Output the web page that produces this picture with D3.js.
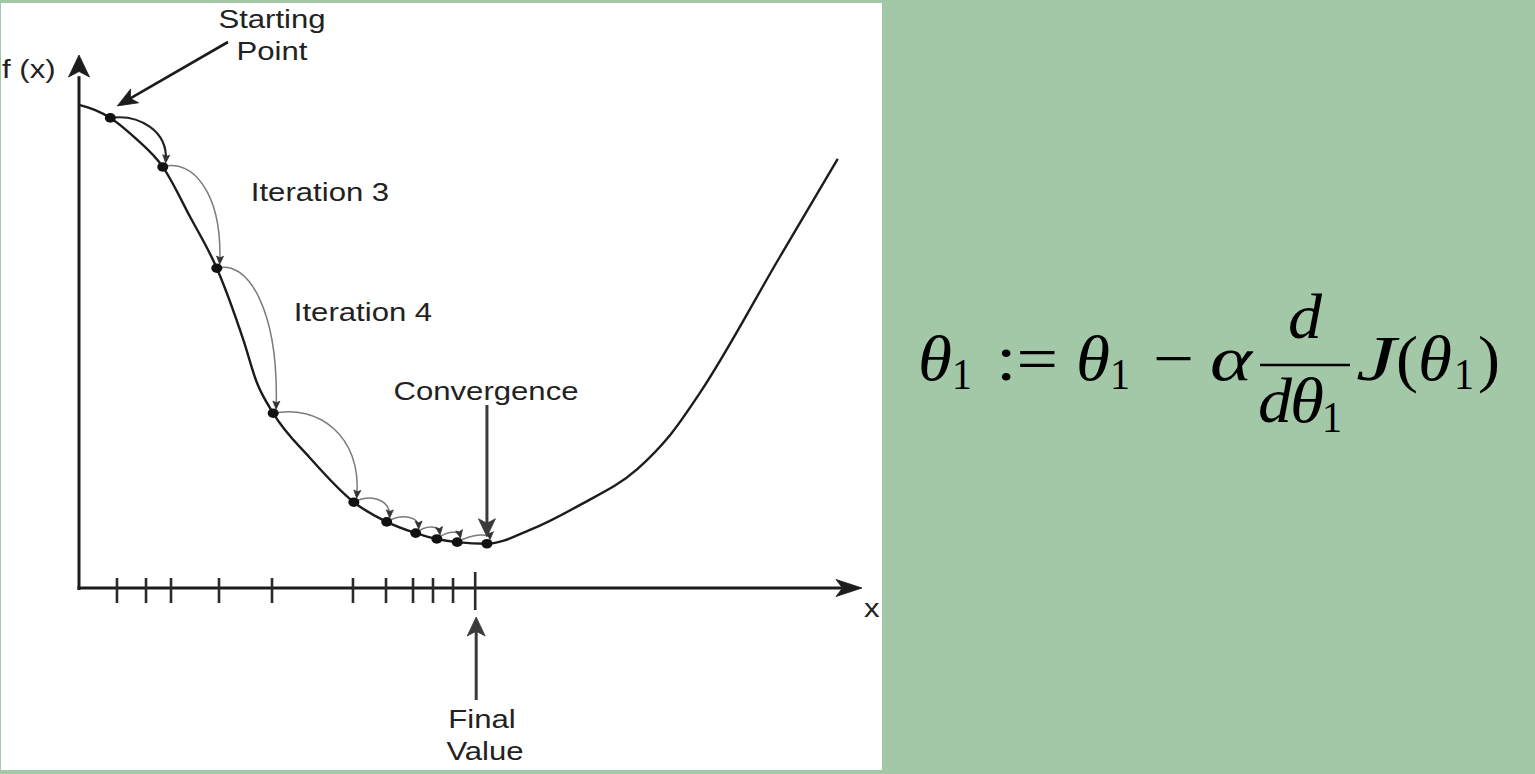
<!DOCTYPE html>
<html>
<head>
<meta charset="utf-8">
<script src="https://cdn.jsdelivr.net/npm/d3@7"></script>
<style>
  html, body { margin: 0; padding: 0; background: #a3c8a8; }
  svg { display: block; }
</style>
</head>
<body>
<svg id="chart" width="1535" height="774"></svg>
<script>
// Cost curve f(x), sampled along x (axis units 0..100)
const curveX = [0.1, 2.0, 4.0, 7.2, 10.7, 14.2, 17.6, 21.0, 22.7, 24.8, 29.5, 35.1, 39.3, 43.0, 45.7, 48.3, 52.1, 57.6, 64.0, 71.3, 75.5, 79.3, 89.5, 96.9];
const curveY = [90.6, 89.7, 88.2, 84.4, 79.0, 69.6, 60.0, 46.5, 38.6, 32.8, 24.4, 16.1, 12.4, 10.3, 9.2, 8.6, 8.3, 10.9, 15.6, 22.3, 28.7, 36.6, 62.1, 80.5];

// Gradient-descent iterates on the curve
const stepX = [4.0, 10.7, 17.6, 24.8, 35.1, 39.3, 43.0, 45.7, 48.3, 52.1];
const stepY = [88.2, 79.0, 60.0, 32.8, 16.1, 12.4, 10.3, 9.2, 8.6, 8.3];

// Tick marks on the x axis; the last one is the final value
const tickX = [4.85, 8.56, 11.75, 17.88, 24.65, 34.99, 39.21, 42.66, 45.21, 47.77];
const finalX = 50.6;

// Annotation texts
const axisLabels = ["f (x)", "x"];
const startLabel = ["Starting", "Point"];
const iterLabels = ["Iteration 3", "Iteration 4"];
const convLabel = "Convergence";
const finalLabel = ["Final", "Value"];

const svg = d3.select("#chart");
const W = 1535, H = 774;

// white drawing panel
const panel = { x: 1, y: 3, w: 881, h: 767 };
svg.append("rect").attr("width", W).attr("height", H).attr("fill", "#a3c8a8");
svg.append("defs").append("clipPath").attr("id", "panelClip")
  .append("rect").attr("x", panel.x).attr("y", panel.y).attr("width", panel.w).attr("height", panel.h);
svg.append("rect").attr("x", panel.x).attr("y", panel.y).attr("width", panel.w).attr("height", panel.h).attr("fill", "#ffffff");

const g = svg.append("g").attr("clip-path", "url(#panelClip)");

const x = d3.scaleLinear().domain([0, 100]).range([79, 862]);
const y = d3.scaleLinear().domain([0, 100]).range([588, 55]);

const INK = "#1c1c1c";

// filled arrowhead with a notched back, tip at (tx,ty), pointing along angle a
function arrowHead(tx, ty, a, len, half, notch, color) {
  const c = Math.cos(a), s = Math.sin(a);
  const bx = tx - c * len, by = ty - s * len;
  const nx = tx - c * len * (1 - notch), ny = ty - s * len * (1 - notch);
  const p = [[tx, ty], [bx - s * half, by + c * half], [nx, ny], [bx + s * half, by - c * half]];
  g.append("path").attr("d", "M" + p.map(q => q.join(",")).join("L") + "Z")
    .attr("fill", color).attr("stroke", color).attr("stroke-width", 0.8).attr("stroke-linejoin", "round");
}

function arrow(x0, y0, x1, y1, len, half, width, color) {
  const a = Math.atan2(y1 - y0, x1 - x0);
  g.append("line").attr("x1", x0).attr("y1", y0)
    .attr("x2", x1 - Math.cos(a) * len * 0.7).attr("y2", y1 - Math.sin(a) * len * 0.7)
    .attr("stroke", color).attr("stroke-width", width);
  arrowHead(x1, y1, a, len, half, 0.25, color);
}

// axes
const x0 = x(0), y0 = y(0);
g.append("line").attr("x1", x0).attr("y1", y0 + 2).attr("x2", x0).attr("y2", y(96))
  .attr("stroke", INK).attr("stroke-width", 3);
arrowHead(x0, y(100), -Math.PI / 2, 22, 10.5, 0.25, INK);
g.append("line").attr("x1", x0 - 1.5).attr("y1", y0).attr("x2", x(97.5)).attr("y2", y0)
  .attr("stroke", INK).attr("stroke-width", 3);
arrowHead(x(100), y0, 0, 26, 8.5, 0.25, INK);

// ticks
g.selectAll("line.tick").data(tickX).join("line").attr("class", "tick")
  .attr("x1", d => x(d)).attr("x2", d => x(d))
  .attr("y1", y0 - 10).attr("y2", y0 + 15)
  .attr("stroke", "#2a2a2a").attr("stroke-width", 2.6);
g.append("line").attr("x1", x(finalX)).attr("x2", x(finalX))
  .attr("y1", y0 - 16).attr("y2", y0 + 22)
  .attr("stroke", "#2a2a2a").attr("stroke-width", 2.6);

// cost curve
const curvePts = curveX.map((d, i) => [x(d), y(curveY[i])]);
g.append("path").attr("d", d3.line().curve(d3.curveMonotoneX)(curvePts))
  .attr("fill", "none").attr("stroke", INK).attr("stroke-width", 2.4);

// step arcs between successive iterates
const pts = stepX.map((d, i) => [x(d), y(stepY[i])]);
for (let i = 0; i < pts.length - 1; i++) {
  const [ax, ay] = pts[i], [bx, by] = pts[i + 1];
  const dx = bx - ax, dy = by - ay;
  const lift = i === 0 ? 4 : 9;
  const ex = bx + 3, ey = by - 6;
  const c1 = [ax + 0.55 * dx, ay - lift];
  const c2 = [bx + 0.1 * dx, ay + 0.35 * dy - lift];
  const dark = i === 0;
  g.append("path")
    .attr("d", `M${ax},${ay}C${c1[0]},${c1[1]} ${c2[0]},${c2[1]} ${ex},${ey}`)
    .attr("fill", "none")
    .attr("stroke", dark ? "#222" : "#7a7a7a")
    .attr("stroke-width", dark ? 2.2 : 1.5);
  const a = Math.atan2(ey - c2[1], ex - c2[0]);
  arrowHead(ex + Math.cos(a) * 2, ey + Math.sin(a) * 2, a, 8, 3.5, 0.2, "#333");
}

// iterate dots
g.selectAll("ellipse.step").data(pts).join("ellipse").attr("class", "step")
  .attr("cx", d => d[0]).attr("cy", d => d[1])
  .attr("rx", 5.5).attr("ry", 4.8).attr("fill", "#111");

// annotation arrows
arrow(228, 42, pts[0][0] + 7, pts[0][1] - 12, 20, 8, 2.6, INK);
arrow(pts[9][0], 405, pts[9][0], pts[9][1] - 7, 18, 8.5, 3, "#3a3a3a");
arrow(x(finalX) + 1, 700, x(finalX) + 1, 617, 19, 9, 3, "#3a3a3a");

// texts (the lettering is slightly wide, so glyphs are stretched horizontally)
function label(str, px, base, anchor) {
  g.append("text")
    .attr("transform", `translate(${px},${base}) scale(1.22,1)`)
    .attr("text-anchor", anchor || "middle")
    .attr("font-family", "'Liberation Sans', Arial, Helvetica, sans-serif")
    .attr("font-size", 25.5)
    .attr("fill", "#222")
    .text(str);
}
label(axisLabels[0], 2, 78, "start");
label(axisLabels[1], 864, 617, "start");
label(startLabel[0], 272, 28);
label(startLabel[1], 272, 60);
label(iterLabels[0], 320, 201);
label(iterLabels[1], 363, 321);
label(convLabel, 486, 400);
label(finalLabel[0], 482, 728);
label(finalLabel[1], 485, 760);

// update rule
const F = svg.append("g")
  .attr("font-family", "'Liberation Serif', 'Times New Roman', serif")
  .attr("fill", "#000");
function tok(t, px, base, size, italic, width) {
  const e = F.append("text").attr("x", px).attr("y", base)
    .attr("font-size", size).attr("font-style", italic ? "italic" : "normal").text(t);
  if (width) e.attr("textLength", width).attr("lengthAdjust", "spacingAndGlyphs");
}
tok("\u03B8", 918, 380, 64, true, 34);
tok("1", 952, 389, 45, false, 20);
tok(":=", 996, 380, 64, false, 62);
tok("\u03B8", 1076, 380, 64, true, 34);
tok("1", 1110, 389, 45, false, 20);
tok("\u2212", 1153, 380, 64, false, 41);
tok("\u03B1", 1210, 380, 64, true, 42);
svg.append("line").attr("x1", 1260).attr("x2", 1350).attr("y1", 365).attr("y2", 365)
  .attr("stroke", "#000").attr("stroke-width", 2.6);
tok("d", 1288, 338, 64, true, 34);
tok("d", 1258, 422, 64, true, 34);
tok("\u03B8", 1290, 422, 64, true, 34);
tok("1", 1322, 432, 45, false, 20);
tok("J", 1356, 380, 64, true, 40);
tok("(", 1396, 380, 64, false, 22);
tok("\u03B8", 1418, 380, 64, true, 34);
tok("1", 1454, 389, 45, false, 20);
tok(")", 1478, 380, 64, false, 22);
</script>
</body>
</html>
